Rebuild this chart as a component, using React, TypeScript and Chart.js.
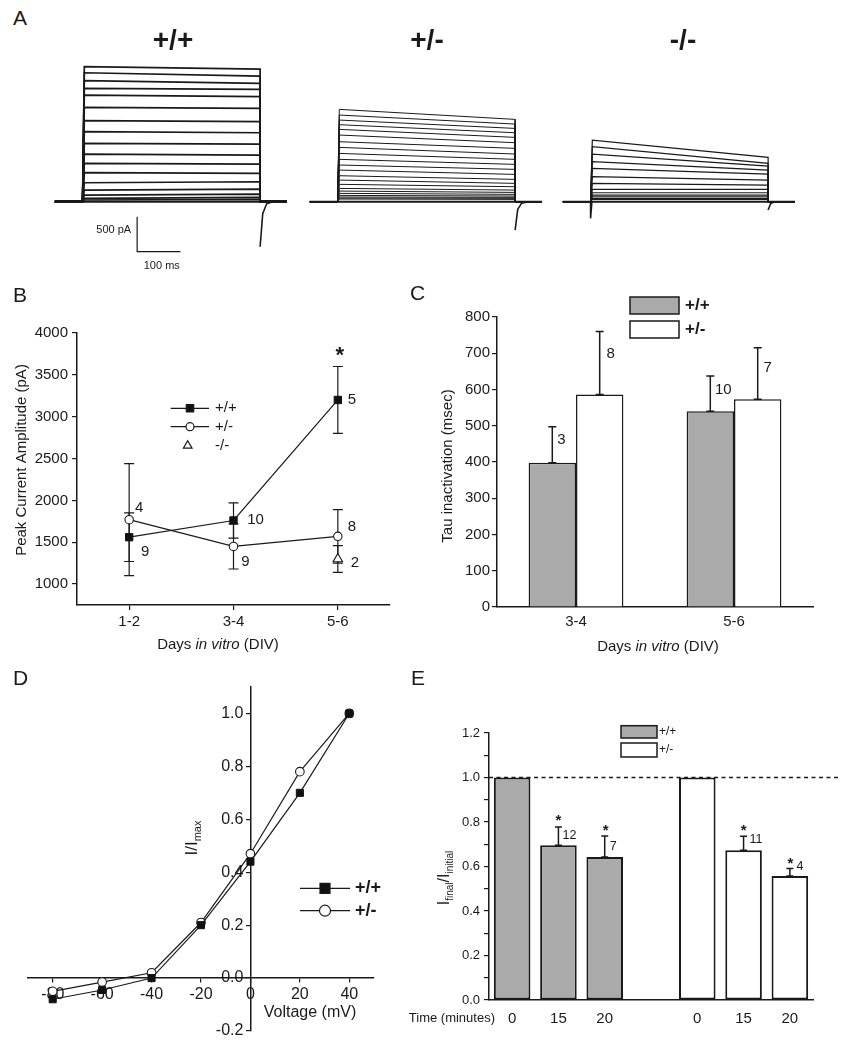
import React, { useEffect, useRef } from 'react';
import { Chart, registerables } from 'chart.js';

Chart.register(...registerables);

const SANS = '"Liberation Sans", Arial, Helvetica, sans-serif';
const INK = '#1a1a1a';
const GRAY = '#aaaaaa';
Chart.defaults.font.family = SANS;
Chart.defaults.color = INK;

// ---------------- Panel A : current traces (pA vs ms) ----------------
const PULSE_MS = 410;
const PRE_MS = 64;
const POST_MS = 62;
const RISE_MS = 4;
const wtPeak = [1928, 1842, 1728, 1619, 1523, 1347, 1157, 1000, 833, 681, 547, 414, 271, 166, 95, 48, 24];
const wtEnd = [1895, 1795, 1690, 1605, 1500, 1333, 1143, 985, 823, 666, 538, 404, 285, 181, 109, 62, 33];
const hetPeak = [1319, 1238, 1166, 1100, 1033, 952, 857, 776, 690, 605, 524, 452, 371, 309, 248, 190, 152, 119, 90, 67, 52, 38];
const hetEnd = [1176, 1109, 1047, 985, 919, 843, 762, 681, 605, 533, 462, 390, 319, 262, 214, 166, 133, 105, 81, 62, 48, 33];
const koPeak = [880, 785, 681, 571, 476, 357, 262, 176, 128, 95, 71, 48, 33];
const koEnd = [633, 547, 509, 452, 395, 309, 238, 176, 128, 95, 71, 48, 33];
const tailMs = [0, 6, 15, 30];
const wtTail = [-643, -170, -30, 0];
const hetTail = [-405, -110, -20, 0];
const koTail = [-119, -25, 0, 0];
const onsetMs = [0, 0, 3];
const koOnset = [0, -238, 0];
const scaleBarPA = 500;
const scaleBarMs = 100;

// ---------------- Panel B ----------------
const dayLabels = ['1-2', '3-4', '5-6'];
const wtAmp = [1560, 1760, 3200];
const wtAmpErr = [290, 210, 400];
const hetAmp = [1770, 1450, 1570];
const hetAmpErr = [670, 270, 320];
const koAmp = [null, null, 1300];
const koAmpErr = [null, null, 160];
const ampTicks = [1000, 1500, 2000, 2500, 3000, 3500, 4000];
const ampNotes = [
  { x: 1, y: 1913, dx: 10, t: '4' },
  { x: 1, y: 1387, dx: 16, t: '9' },
  { x: 2, y: 1766, dx: 22, t: '10' },
  { x: 2, y: 1267, dx: 12, t: '9' },
  { x: 3, y: 3200, dx: 14, t: '5' },
  { x: 3, y: 1682, dx: 14, t: '8' },
  { x: 3, y: 1255, dx: 17, t: '2' },
];
const ampStars = [{ x: 3, y: 3798, dx: 2 }];

// ---------------- Panel C ----------------
const tauDays = ['3-4', '5-6'];
const tauWt = [398, 540];
const tauWtErr = [99, 97];
const tauHet = [586, 573];
const tauHetErr = [174, 142];
const tauNotes = [
  { ds: 0, i: 0, y: 462, dx: 9, t: '3' },
  { ds: 1, i: 0, y: 697, dx: 11, t: '8' },
  { ds: 0, i: 1, y: 600, dx: 13, t: '10' },
  { ds: 1, i: 1, y: 660, dx: 10, t: '7' },
];

// ---------------- Panel D ----------------
const volts = [-80, -60, -40, -20, 0, 20, 40];
const ivWt = [-0.08, -0.045, 0.0, 0.2, 0.44, 0.7, 1.0];
const ivHet = [-0.05, -0.015, 0.02, 0.21, 0.47, 0.78, 1.0];
const voltTicks = [-80, -60, -40, -20, 0, 20, 40];
const ivTicks = [-0.2, 0, 0.2, 0.4, 0.6, 0.8, 1.0];

// ---------------- Panel E ----------------
const timeLabels = ['0', '15', '20', '', '0', '15', '20'];
const ratioWt = [1.0, 0.695, 0.643, null, null, null, null];
const ratioWtErr = [null, 0.083, 0.094, null, null, null, null];
const ratioHet = [null, null, null, null, 1.0, 0.673, 0.557];
const ratioHetErr = [null, null, null, null, null, 0.063, 0.034];
const ratioTicks = [0, 0.1, 0.2, 0.3, 0.4, 0.5, 0.6, 0.7, 0.8, 0.9, 1.0, 1.1, 1.2];
const ratioNotes = [
  { i: 1, y: 0.826, dx: 0, t: '*' },
  { i: 1, y: 0.74, dx: 11, t: '12' },
  { i: 2, y: 0.778, dx: 1, t: '*' },
  { i: 2, y: 0.688, dx: 8.5, t: '7' },
  { i: 5, y: 0.778, dx: 0, t: '*' },
  { i: 5, y: 0.721, dx: 12.5, t: '11' },
  { i: 6, y: 0.633, dx: 0.5, t: '*' },
  { i: 6, y: 0.601, dx: 10, t: '4' },
];

// ---------------- helpers ----------------
const font = (px: number, weight = 'normal', style = 'normal') => `${style} ${weight} ${px}px ${SANS}`;

type Seg = { t: string; f: string; dy?: number };
function drawSegs(ctx: CanvasRenderingContext2D, segs: Seg[], x: number, y: number, rot = 0, align = 'center') {
  ctx.save();
  ctx.translate(x, y);
  if (rot) ctx.rotate(rot);
  ctx.fillStyle = INK;
  ctx.textBaseline = 'middle';
  ctx.textAlign = 'left';
  let total = 0;
  for (const s of segs) {
    ctx.font = s.f;
    total += ctx.measureText(s.t).width;
  }
  let cx = align === 'center' ? -total / 2 : align === 'right' ? -total : 0;
  for (const s of segs) {
    ctx.font = s.f;
    ctx.fillText(s.t, cx, s.dy || 0);
    cx += ctx.measureText(s.t).width;
  }
  ctx.restore();
}

function drawNote(ctx: CanvasRenderingContext2D, t: string, x: number, y: number, px: number, weight = 'normal') {
  ctx.save();
  ctx.fillStyle = INK;
  ctx.font = font(px, weight);
  ctx.textAlign = 'center';
  if (t === '*') {
    ctx.textBaseline = 'alphabetic';
    ctx.fillText(t, x, y + 0.57 * px);
  } else {
    ctx.textBaseline = 'middle';
    ctx.fillText(t, x, y);
  }
  ctx.restore();
}

function marker(ctx: CanvasRenderingContext2D, kind: string, x: number, y: number, r: number, fill: string) {
  ctx.save();
  ctx.beginPath();
  if (kind === 'rect') ctx.rect(x - r, y - r, 2 * r, 2 * r);
  else if (kind === 'circle') ctx.arc(x, y, r, 0, Math.PI * 2);
  else {
    ctx.moveTo(x, y - r);
    ctx.lineTo(x + r * 0.866, y + r * 0.5);
    ctx.lineTo(x - r * 0.866, y + r * 0.5);
    ctx.closePath();
  }
  ctx.fillStyle = fill;
  ctx.fill();
  ctx.strokeStyle = INK;
  ctx.lineWidth = 1.2;
  ctx.stroke();
  ctx.restore();
}

function errBar(ctx: CanvasRenderingContext2D, x: number, top: number, bottom: number | null, cap: number, lw: number) {
  ctx.save();
  ctx.strokeStyle = INK;
  ctx.lineWidth = lw;
  ctx.beginPath();
  ctx.moveTo(x, bottom == null ? top : bottom);
  ctx.lineTo(x, top);
  ctx.moveTo(x - cap, top);
  ctx.lineTo(x + cap, top);
  if (bottom != null) {
    ctx.moveTo(x - cap, bottom);
    ctx.lineTo(x + cap, bottom);
  }
  ctx.stroke();
  ctx.restore();
}

const base = {
  animation: false,
  responsive: false,
  events: [],
  plugins: { legend: { display: false }, tooltip: { enabled: false } },
};

// ---------------- Panel A config ----------------
const A_X_MIN = -66;
const A_X_MAX = 479;
const A_Y_MIN = -1047;
const A_Y_MAX = 2167;

function traceConfig(peaks: number[], ends: number[], tail: number[], lw: number, onset: number[] | null, withBar: boolean) {
  const line = (data: any[], w: number) => ({
    data,
    borderColor: INK,
    borderWidth: w,
    pointRadius: 0,
    tension: 0,
    fill: false,
  });
  const sets: any[] = [line([{ x: -PRE_MS, y: 0 }, { x: PULSE_MS + POST_MS, y: 0 }], 2)];
  peaks.forEach((p, i) => {
    sets.push(
      line(
        [
          { x: -PRE_MS, y: 0 },
          { x: 0, y: 0 },
          { x: RISE_MS, y: p },
          { x: PULSE_MS, y: ends[i] },
          { x: PULSE_MS, y: 0 },
          { x: PULSE_MS + POST_MS, y: 0 },
        ],
        lw,
      ),
    );
  });
  sets.push(line(tailMs.map((t, i) => ({ x: PULSE_MS + t, y: tail[i] })), 1.6));
  if (onset) sets.push(line(onsetMs.map((t, i) => ({ x: t, y: onset[i] })), 1.6));

  const barPlugin = {
    id: 'scaleBar',
    afterDraw(chart: any) {
      if (!withBar) return;
      const { ctx, scales } = chart;
      const x = scales.x;
      const y = scales.y;
      const t0 = 126;
      const a0 = -214;
      const x0 = x.getPixelForValue(t0);
      const x1 = x.getPixelForValue(t0 + scaleBarMs);
      const yTop = y.getPixelForValue(a0);
      const yBot = y.getPixelForValue(a0 - scaleBarPA);
      ctx.save();
      ctx.strokeStyle = INK;
      ctx.lineWidth = 1.2;
      ctx.beginPath();
      ctx.moveTo(x0, yTop);
      ctx.lineTo(x0, yBot);
      ctx.lineTo(x1, yBot);
      ctx.stroke();
      ctx.restore();
      drawSegs(ctx, [{ t: `${scaleBarPA} pA`, f: font(11) }], x0 - 6, (yTop + yBot) / 2 - 4, 0, 'right');
      drawSegs(ctx, [{ t: `${scaleBarMs} ms`, f: font(11) }], (x0 + x1) / 2 + 3, yBot + 14, 0, 'center');
    },
  };

  return {
    type: 'line',
    data: { datasets: sets },
    options: {
      ...base,
      layout: { padding: 0 },
      scales: {
        x: { type: 'linear', display: false, min: A_X_MIN, max: A_X_MAX },
        y: { type: 'linear', display: false, min: A_Y_MIN, max: A_Y_MAX },
      },
    },
    plugins: [barPlugin],
  };
}

// ---------------- Panel B config ----------------
function ampConfig() {
  const pts = (arr: (number | null)[]) => arr.map((v, i) => ({ x: i + 1, y: v }));
  const plugin = {
    id: 'ampExtras',
    beforeDatasetsDraw(chart: any) {
      const { ctx, scales } = chart;
      const groups: any[] = [
        [wtAmp, wtAmpErr],
        [hetAmp, hetAmpErr],
        [koAmp, koAmpErr],
      ];
      groups.forEach(([vals, errs]) => {
        vals.forEach((v: number | null, i: number) => {
          if (v == null || errs[i] == null) return;
          const px = scales.x.getPixelForValue(i + 1);
          errBar(ctx, px, scales.y.getPixelForValue(v + errs[i]), scales.y.getPixelForValue(v - errs[i]), 5, 1.2);
        });
      });
    },
    afterDraw(chart: any) {
      const { ctx, scales } = chart;
      ampNotes.forEach((n) => drawNote(ctx, n.t, scales.x.getPixelForValue(n.x) + n.dx, scales.y.getPixelForValue(n.y), 15));
      ampStars.forEach((n) => drawNote(ctx, '*', scales.x.getPixelForValue(n.x) + n.dx, scales.y.getPixelForValue(n.y), 22, 'bold'));
      const rows = [
        { kind: 'rect', fill: '#111', label: '+/+', line: true, y: 118.3, r: 3.7 },
        { kind: 'circle', fill: '#fff', label: '+/-', line: true, y: 136.7, r: 4 },
        { kind: 'tri', fill: '#fff', label: '-/-', line: false, y: 155.7, r: 5 },
      ];
      rows.forEach((r) => {
        if (r.line) {
          ctx.save();
          ctx.strokeStyle = INK;
          ctx.lineWidth = 1.2;
          ctx.beginPath();
          ctx.moveTo(170.7, r.y);
          ctx.lineTo(209, r.y);
          ctx.stroke();
          ctx.restore();
        }
        marker(ctx, r.kind, r.line ? 190 : 187.7, r.y, r.r, r.fill);
        drawSegs(ctx, [{ t: r.label, f: font(15) }], 215, r.y, 0, 'left');
      });
      drawSegs(ctx, [{ t: 'Peak Current Amplitude (pA)', f: font(15) }], 22, 170, -Math.PI / 2);
      drawSegs(
        ctx,
        [
          { t: 'Days ', f: font(15) },
          { t: 'in vitro', f: font(15, 'normal', 'italic') },
          { t: ' (DIV)', f: font(15) },
        ],
        218,
        355,
      );
    },
  };
  return {
    type: 'line',
    data: {
      datasets: [
        {
          label: '+/+',
          data: pts(wtAmp),
          borderColor: INK,
          borderWidth: 1.2,
          pointStyle: 'rect',
          pointRadius: 5.2,
          pointBackgroundColor: '#111',
          pointBorderColor: '#111',
          pointBorderWidth: 1,
        },
        {
          label: '+/-',
          data: pts(hetAmp),
          borderColor: INK,
          borderWidth: 1.2,
          pointStyle: 'circle',
          pointRadius: 4.2,
          pointBackgroundColor: '#fff',
          pointBorderColor: INK,
          pointBorderWidth: 1.1,
        },
        {
          label: '-/-',
          data: pts(koAmp),
          showLine: false,
          pointStyle: 'triangle',
          pointRadius: 5.5,
          pointBackgroundColor: '#fff',
          pointBorderColor: INK,
          pointBorderWidth: 1.1,
        },
      ],
    },
    options: {
      ...base,
      layout: { padding: { top: 43, right: 10, left: 0, bottom: 0 } },
      scales: {
        x: {
          type: 'linear',
          min: 0.5,
          max: 3.5,
          afterBuildTicks: (s: any) => {
            s.ticks = dayLabels.map((_, i) => ({ value: i + 1 }));
          },
          afterFit: (s: any) => {
            s.height = 55;
          },
          ticks: { callback: (v: number) => dayLabels[v - 1], font: { size: 15 }, color: INK, padding: 3, autoSkip: false, maxRotation: 0 },
          grid: { drawOnChartArea: false, tickLength: 5, color: INK, lineWidth: 1.2 },
          border: { color: INK, width: 1.5 },
        },
        y: {
          type: 'linear',
          min: 750,
          max: 4000,
          afterBuildTicks: (s: any) => {
            s.ticks = ampTicks.map((value) => ({ value }));
          },
          afterFit: (s: any) => {
            s.width = 77;
          },
          ticks: { font: { size: 15 }, color: INK, padding: 4, autoSkip: false, callback: (v: number) => String(v) },
          grid: { drawOnChartArea: false, tickLength: 5, color: INK, lineWidth: 1.2 },
          border: { color: INK, width: 1.5 },
        },
      },
    },
    plugins: [plugin],
  };
}

// ---------------- Panel C config ----------------
function tauConfig() {
  const plugin = {
    id: 'tauExtras',
    afterDatasetsDraw(chart: any) {
      const { ctx, scales } = chart;
      [tauWt, tauHet].forEach((vals, d) => {
        const errs = d === 0 ? tauWtErr : tauHetErr;
        const meta = chart.getDatasetMeta(d);
        vals.forEach((v, i) => {
          const bx = meta.data[i].x;
          errBar(ctx, bx, scales.y.getPixelForValue(v + errs[i]), scales.y.getPixelForValue(v), 4, 1.5);
        });
      });
      tauNotes.forEach((n) => {
        const bx = chart.getDatasetMeta(n.ds).data[n.i].x;
        drawNote(ctx, n.t, bx + n.dx, scales.y.getPixelForValue(n.y), 15);
      });
    },
    afterDraw(chart: any) {
      const { ctx } = chart;
      const boxes = [
        { fill: GRAY, y: 17, label: '+/+' },
        { fill: '#fff', y: 41, label: '+/-' },
      ];
      boxes.forEach((b) => {
        ctx.save();
        ctx.fillStyle = b.fill;
        ctx.fillRect(230, b.y, 49, 17);
        ctx.strokeStyle = INK;
        ctx.lineWidth = 1.5;
        ctx.strokeRect(230, b.y, 49, 17);
        ctx.restore();
        drawSegs(ctx, [{ t: b.label, f: font(17, 'bold') }], 285, b.y + 8.5, 0, 'left');
      });
      drawSegs(ctx, [{ t: 'Tau inactivation (msec)', f: font(15) }], 48, 186, -Math.PI / 2);
      drawSegs(
        ctx,
        [
          { t: 'Days ', f: font(15) },
          { t: 'in vitro', f: font(15, 'normal', 'italic') },
          { t: ' (DIV)', f: font(15) },
        ],
        258,
        367,
      );
    },
  };
  return {
    type: 'bar',
    data: {
      labels: tauDays,
      datasets: [
        { label: '+/+', data: tauWt, backgroundColor: GRAY, borderColor: INK, borderWidth: 1.5, barPercentage: 1, categoryPercentage: 0.6 },
        { label: '+/-', data: tauHet, backgroundColor: '#fff', borderColor: INK, borderWidth: 1.5, barPercentage: 1, categoryPercentage: 0.6 },
      ],
    },
    options: {
      ...base,
      layout: { padding: { top: 37, right: 39, left: 0, bottom: 0 } },
      scales: {
        x: {
          afterFit: (s: any) => {
            s.height = 53;
          },
          ticks: { font: { size: 15 }, color: INK, padding: 6 },
          grid: { display: false, drawTicks: false },
          border: { color: INK, width: 1.5 },
        },
        y: {
          min: 0,
          max: 800,
          afterFit: (s: any) => {
            s.width = 97;
          },
          ticks: { stepSize: 100, font: { size: 15 }, color: INK, padding: 2 },
          grid: { drawOnChartArea: false, tickLength: 5, color: INK, lineWidth: 1.2 },
          border: { color: INK, width: 1.5 },
        },
      },
    },
    plugins: [plugin],
  };
}

// ---------------- Panel D config ----------------
function ivConfig() {
  const plugin = {
    id: 'ivExtras',
    afterDraw(chart: any) {
      const { ctx, scales } = chart;
      // y tick labels, right-aligned left of the crossing axis
      const axisX = scales.x.getPixelForValue(0);
      ctx.save();
      ctx.fillStyle = INK;
      ctx.font = font(16);
      ctx.textAlign = 'right';
      ctx.textBaseline = 'middle';
      ivTicks.forEach((v) => ctx.fillText(v.toFixed(1), axisX - 7, scales.y.getPixelForValue(v)));
      ctx.restore();
      const rows = [
        { kind: 'rect', fill: '#111', label: '+/+', y: 228.3, r: 5 },
        { kind: 'circle', fill: '#fff', label: '+/-', y: 250.7, r: 5.5 },
      ];
      rows.forEach((r) => {
        ctx.save();
        ctx.strokeStyle = INK;
        ctx.lineWidth = 1.2;
        ctx.beginPath();
        ctx.moveTo(300, r.y);
        ctx.lineTo(350, r.y);
        ctx.stroke();
        ctx.restore();
        marker(ctx, r.kind, 325, r.y, r.r, r.fill);
        drawSegs(ctx, [{ t: r.label, f: font(18, 'bold') }], 355, r.y, 0, 'left');
      });
      drawSegs(ctx, [{ t: 'Voltage (mV)', f: font(16) }], 310, 353);
      drawSegs(
        ctx,
        [
          { t: 'I/I', f: font(17) },
          { t: 'max', f: font(11), dy: 6 },
        ],
        192,
        178,
        -Math.PI / 2,
      );
    },
  };
  return {
    type: 'line',
    data: {
      datasets: [
        {
          label: '+/+',
          data: volts.map((v, i) => ({ x: v, y: ivWt[i] })),
          borderColor: INK,
          borderWidth: 1.2,
          pointStyle: 'rect',
          pointRadius: 5,
          pointBackgroundColor: '#111',
          pointBorderColor: '#111',
          pointBorderWidth: 1,
        },
        {
          label: '+/-',
          data: volts.map((v, i) => ({ x: v, y: ivHet[i] })),
          borderColor: INK,
          borderWidth: 1.2,
          pointStyle: 'circle',
          pointRadius: 4.3,
          pointBackgroundColor: '#fff',
          pointBorderColor: INK,
          pointBorderWidth: 1.1,
        },
      ],
    },
    options: {
      ...base,
      layout: { padding: { left: 28, right: 46, top: 27, bottom: 19 } },
      scales: {
        x: {
          type: 'linear',
          min: -90,
          max: 50,
          position: { y: 0 },
          afterBuildTicks: (s: any) => {
            s.ticks = voltTicks.map((value) => ({ value }));
          },
          ticks: { font: { size: 16 }, color: INK, padding: 3, autoSkip: false, maxRotation: 0, callback: (v: number) => String(v) },
          grid: { drawOnChartArea: false, tickLength: 4, color: INK, lineWidth: 1.2 },
          border: { color: INK, width: 1.5 },
        },
        y: {
          type: 'linear',
          min: -0.2,
          max: 1.1,
          position: { x: 0 },
          afterBuildTicks: (s: any) => {
            s.ticks = ivTicks.map((value) => ({ value }));
          },
          ticks: { display: false },
          grid: { drawOnChartArea: false, tickLength: 4, color: INK, lineWidth: 1.2 },
          border: { color: INK, width: 1.5 },
        },
      },
    },
    plugins: [plugin],
  };
}

// ---------------- Panel E config ----------------
function ratioConfig() {
  const plugin = {
    id: 'ratioExtras',
    afterDatasetsDraw(chart: any) {
      const { ctx, scales, chartArea } = chart;
      [ratioWt, ratioHet].forEach((vals, d) => {
        const errs = d === 0 ? ratioWtErr : ratioHetErr;
        vals.forEach((v, i) => {
          if (v == null || errs[i] == null) return;
          const bx = scales.x.getPixelForValue(i);
          errBar(ctx, bx, scales.y.getPixelForValue(v + (errs[i] as number)), scales.y.getPixelForValue(v), 3.5, 1.5);
        });
      });
      ratioNotes.forEach((n) => {
        const x = scales.x.getPixelForValue(n.i) + n.dx;
        const y = scales.y.getPixelForValue(n.y);
        if (n.t === '*') drawNote(ctx, '*', x, y, 15, 'bold');
        else drawNote(ctx, n.t, x, y, 12.5);
      });
      const y1 = scales.y.getPixelForValue(1.0);
      ctx.save();
      ctx.strokeStyle = INK;
      ctx.lineWidth = 1.5;
      ctx.setLineDash([4, 3.5]);
      ctx.beginPath();
      ctx.moveTo(chartArea.left, y1);
      ctx.lineTo(chartArea.right + 26, y1);
      ctx.stroke();
      ctx.restore();
    },
    afterDraw(chart: any) {
      const { ctx } = chart;
      const boxes = [
        { fill: GRAY, y: 65.7, h: 12.3, label: '+/+' },
        { fill: '#fff', y: 83, h: 14, label: '+/-' },
      ];
      boxes.forEach((b) => {
        ctx.save();
        ctx.fillStyle = b.fill;
        ctx.fillRect(216, b.y, 36, b.h);
        ctx.strokeStyle = INK;
        ctx.lineWidth = 1.5;
        ctx.strokeRect(216, b.y, 36, b.h);
        ctx.restore();
        drawSegs(ctx, [{ t: b.label, f: font(12) }], 254, b.y + b.h / 2, 0, 'left');
      });
      drawSegs(ctx, [{ t: 'Time (minutes)', f: font(13) }], 90, 358, 0, 'right');
      drawSegs(
        ctx,
        [
          { t: 'I', f: font(16) },
          { t: 'final', f: font(10), dy: 5 },
          { t: '/I', f: font(16) },
          { t: 'initial', f: font(10), dy: 5 },
        ],
        40,
        218,
        -Math.PI / 2,
      );
    },
  };
  return {
    type: 'bar',
    data: {
      labels: timeLabels,
      datasets: [
        { label: '+/+', data: ratioWt, backgroundColor: GRAY, borderColor: INK, borderWidth: 2, borderSkipped: false, grouped: false, barPercentage: 0.79, categoryPercentage: 1 },
        { label: '+/-', data: ratioHet, backgroundColor: '#fff', borderColor: INK, borderWidth: 2, borderSkipped: false, grouped: false, barPercentage: 0.79, categoryPercentage: 1 },
      ],
    },
    options: {
      ...base,
      layout: { padding: { top: 73, right: 39, left: 0, bottom: 0 } },
      scales: {
        x: {
          afterFit: (s: any) => {
            s.height = 50;
          },
          ticks: { font: { size: 15 }, color: INK, padding: 10, autoSkip: false, maxRotation: 0 },
          grid: { display: false, drawTicks: false },
          border: { color: INK, width: 1.5 },
        },
        y: {
          min: 0,
          max: 1.2,
          afterBuildTicks: (s: any) => {
            s.ticks = ratioTicks.map((value) => ({ value }));
          },
          afterFit: (s: any) => {
            s.width = 84;
          },
          ticks: {
            font: { size: 13 },
            color: INK,
            padding: 4,
            autoSkip: false,
            callback: (v: number) => (Math.round(v * 10) % 2 === 0 ? v.toFixed(1) : ''),
          },
          grid: { drawOnChartArea: false, tickLength: 5, color: INK, lineWidth: 1.2 },
          border: { color: INK, width: 1.5 },
        },
      },
    },
    plugins: [plugin],
  };
}

// ---------------- components ----------------
function ChartCanvas({ left, top, width, height, make }: any) {
  const ref = useRef<HTMLCanvasElement>(null);
  useEffect(() => {
    if (!ref.current) return;
    const chart = new Chart(ref.current, make());
    return () => chart.destroy();
  }, []);
  return (
    <canvas
      ref={ref}
      width={width}
      height={height}
      style={{ position: 'absolute', left, top, width, height }}
    />
  );
}

function Letter({ x, y, children }: any) {
  return (
    <div style={{ position: 'absolute', left: x, top: y, fontSize: 21, lineHeight: '21px', color: INK }}>{children}</div>
  );
}

function Geno({ cx, children }: any) {
  return (
    <div
      style={{
        position: 'absolute',
        left: cx,
        top: 26,
        transform: 'translateX(-50%)',
        fontSize: 28,
        lineHeight: '28px',
        fontWeight: 'bold',
        color: INK,
        whiteSpace: 'nowrap',
      }}
    >
      {children}
    </div>
  );
}

export default function App() {
  return (
    <div
      style={{
        position: 'absolute',
        left: 0,
        top: 0,
        width: 852,
        height: 1050,
        background: '#fff',
        overflow: 'hidden',
        fontFamily: SANS,
      }}
    >
      <ChartCanvas left={54.4} top={50} width={236} height={225} make={() => traceConfig(wtPeak, wtEnd, wtTail, 1.7, null, true)} />
      <ChartCanvas left={308.7} top={50} width={236} height={225} make={() => traceConfig(hetPeak, hetEnd, hetTail, 1.0, null, false)} />
      <ChartCanvas left={562.1} top={50} width={236} height={225} make={() => traceConfig(koPeak, koEnd, koTail, 1.2, koOnset, false)} />
      <ChartCanvas left={0} top={290} width={400} height={370} make={ampConfig} />
      <ChartCanvas left={400} top={280} width={452} height={380} make={tauConfig} />
      <ChartCanvas left={0} top={660} width={420} height={390} make={ivConfig} />
      <ChartCanvas left={405} top={660} width={447} height={390} make={ratioConfig} />
      <Geno cx={173}>+/+</Geno>
      <Geno cx={427}>+/-</Geno>
      <Geno cx={683}>-/-</Geno>
      <Letter x={13} y={7}>A</Letter>
      <Letter x={13} y={284}>B</Letter>
      <Letter x={410} y={282}>C</Letter>
      <Letter x={13} y={667}>D</Letter>
      <Letter x={411} y={667}>E</Letter>
    </div>
  );
}
